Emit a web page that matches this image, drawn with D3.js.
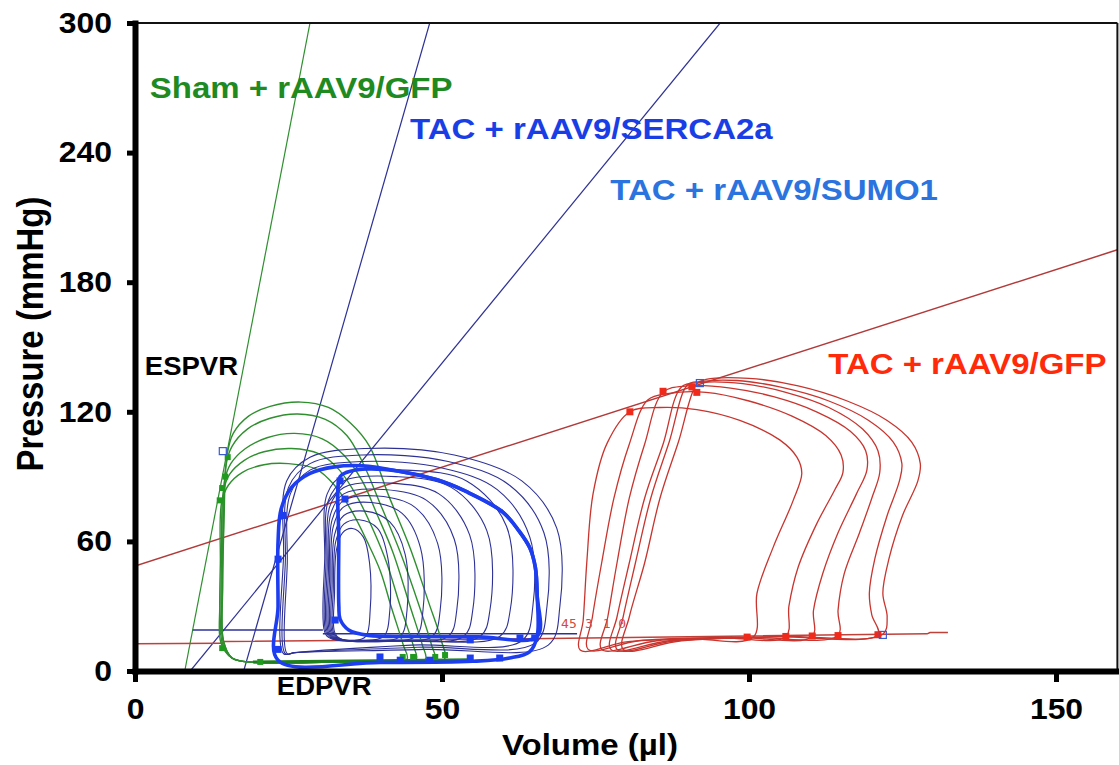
<!DOCTYPE html>
<html>
<head>
<meta charset="utf-8">
<script src="https://cdn.jsdelivr.net/npm/d3@7"></script>
<style>
  body { margin: 0; background: #fff; }
  text { font-family: "Liberation Sans", Arial, Helvetica, sans-serif; font-weight: bold; }
</style>
</head>
<body>
<svg width="1119" height="765"></svg>
<script>
const volumeTicks = [0, 50, 100, 150]
const pressureTicks = [0, 60, 120, 180, 240, 300]

// ESPVR / EDPVR lines, [volume µl, pressure mmHg]
const espvrSham = [[8.1, 0], [28.5, 300]]
const espvrSerca = [[17.7, 0], [48.0, 300]]
const espvrSumo = [[9.0, 0], [95.3, 300]]
const espvrTacGfp = [[0, 48.6], [160, 195]]
const edpvrTacGfp = [[0, 12.6], [14, 12.8], [14.5, 13.6], [60, 14.8], [100, 16.2], [129, 17.2], [129.5, 17.8], [132.4, 17.8]]
const edpvrSham = [[19.2, 4.2], [55, 5.2]]
const edpvrSumoA = [[9.4, 19], [30.6, 19]]
const edpvrSumoB = [[30.6, 17.3], [72, 17.3]]

// PV loops
const shamLoops = [
  [[14.4,14],[14.3,40],[14.5,70],[15,100],[16,110],[18.5,118],[22,122.5],[27,124.5],[31.5,122],[35,115],[38.2,104],[41.2,82],[44.8,57],[47.8,32],[49.9,14],[50.4,5.5],[42.7,4.5],[30.5,4],[19.3,4],[15.8,6]],
  [[14.4,14],[14.2,40],[14.4,65],[14.8,95],[15.8,104],[18.3,112],[22,117],[26.5,119],[31,116.5],[34.5,109],[37,97],[40,77],[43.2,55],[46.3,30],[48.3,12],[48.8,5.5],[41.7,4.5],[30.5,4],[19.3,4],[15.8,6]],
  [[14.4,13],[14.2,35],[14.3,60],[14.6,88],[15.6,96],[18,103],[21.5,108],[26,110],[30.5,107.5],[34,100],[37,88],[39.5,72],[42,55],[44.8,30],[46.8,12],[47.3,5.5],[40.7,4.5],[30.5,4],[19.3,4],[15.8,6]],
  [[14.2,13],[14,30],[14.1,55],[14.4,83],[15.4,91],[17.8,97.5],[21,101.5],[25.5,103],[30,100.5],[33.3,93],[36.3,80],[39,64],[41,50],[43.2,30],[45.3,12],[45.8,5.5],[39.7,4.5],[30.5,4],[19.3,4],[15.8,6]],
  [[14,13],[13.8,30],[13.9,50],[14.1,78],[15.2,86],[17.5,92],[21,95.5],[25,96],[29.5,93.5],[32.5,86],[35.3,74],[37.8,60],[40,46],[41.7,30],[43.7,12],[44.3,5.5],[38.7,4.5],[30.5,4],[19.3,4],[15.8,6]]
]

const sumoLoops = [
  [[32.5,18],[32.5,36],[32.8,56],[33.8,64],[35.4,66],[37.2,62],[38.2,50],[38.3,28],[37.6,16],[35.5,14],[33.4,15]],
  [[32.3,18],[32.3,38],[32.7,60],[34,68],[36.5,70],[39.5,66],[41.2,52],[41.5,28],[40.5,16],[37,14],[33.3,15]],
  [[32.1,18],[32.1,40],[32.5,63],[34,72],[37.5,74],[41.5,69],[44,54],[44.3,28],[43.2,16],[38.5,14],[33.1,15]],
  [[31.9,18],[31.9,42],[32.3,67],[34,76],[38.5,78],[43.5,73],[46.5,57],[46.9,28],[45.7,16],[39.5,14],[32.9,15]],
  [[31.7,18],[31.7,44],[32.1,70],[34,79],[39.5,81],[45.5,76],[49.3,59],[49.7,28],[48.4,16],[41,14],[32.7,15]],
  [[31.5,18],[31.5,46],[31.9,73],[34,82],[40.5,84],[47.5,79],[52,61],[52.4,28],[51,16],[42,14],[32.5,15]],
  [[31.3,18],[31.3,48],[31.7,76],[34,85],[41.5,87],[49.5,82],[54.5,63],[55,28],[53.5,16],[43,14],[32.3,15]],
  [[31.1,18],[31.1,50],[31.5,79],[34,88],[42.5,90],[51.5,85],[57.3,65],[57.8,28],[56.2,16],[44.5,14],[32.1,15]],
  [[30.9,18],[30.9,52],[31.3,82],[34,91],[44,93],[54,88],[60.5,67],[61.1,28],[59.4,16],[46,14],[31.9,15]],
  [[24.8,8],[24.8,50],[25.3,82],[28.5,93],[37,97],[50,94],[59,84],[64.3,62],[64.8,30],[63,14],[45,12],[26,8.5]],
  [[24.5,8],[24.5,52],[25,85],[28.5,96],[37,100],[51,97],[61,86],[66.6,64],[67.1,30],[65.2,13],[46,11],[26,8.5]],
  [[24.2,8],[24.2,54],[24.7,88],[28.5,99],[37.5,103],[52,100],[63,88],[68.7,66],[69.2,30],[67.3,12],[47,10],[26,8.5]]
]

const sercaLoops = [
  [[23.3,5],[40,4],[55,4.5],[61,6],[64.3,9],[65.5,16],[65.5,35],[65.2,48],[64.3,57],[62.5,65],[59.9,73.6],[54,83],[49.2,88.5],[43,92.5],[37,95],[32.5,94.5],[28.5,91.5],[25.5,85],[23.8,75],[23.3,60],[23.3,30]],
  [[33.4,90],[33.2,60],[33.2,30],[33.4,24],[34.8,19],[38,16.5],[46,16],[56,15.8],[65.5,16],[65.5,35],[65.2,48],[64.3,57],[62.5,65],[59.9,73.6],[54,83],[49.2,88.5],[43,92.5],[37.5,93.5],[34.5,92]]
]

const gfpLoops = [
  [[72.5,9.7],[80,13.5],[90,15],[100.7,15.7],[101.3,36],[103.9,57],[107.2,79],[108.6,91.5],[107.8,99],[105,107],[98.5,116],[91.5,121],[85.5,122],[80.6,120],[76.9,105.5],[74.6,82],[73.6,51],[73,23.6]],
  [[73.8,10],[82,14],[95,15.5],[106,16],[106.5,30],[108,48],[111,68],[114,84],[115.3,92],[115,100],[112.5,109],[107,118],[100,125],[93,129],[87,128.5],[83.5,125.5],[80.5,105],[78,80],[76,50],[74.5,25]],
  [[76,10],[85,14],[98,15.5],[110.3,16],[110.5,28],[112,45],[114.5,64],[117.5,82],[119.2,93],[119,102],[116.5,111],[111,120],[104,127],[97,131],[90,132],[86,129],[83,105],[80.5,80],[78.5,50],[77,25]],
  [[77.5,10],[87,14],[100,15.5],[114.5,16.5],[114.5,28],[115.5,45],[118,64],[120,80],[121.3,92],[121,102],[118.5,112],[113,122],[106,129],[99,133],[92,133.5],[89,131.5],[86,105],[83,80],[80.5,50],[78.5,25]],
  [[78.5,10],[88,14],[104,15.8],[121,16.8],[120,26],[119.6,36],[120.5,52],[122.5,72],[124.5,88],[124.9,96],[123.5,106],[119.5,116],[113,125],[105,131.5],[98,134.5],[92,134],[90,132.5],[87,106],[84,80],[81.5,50],[79.5,25]],
  [[79.5,10],[89,14],[105,16],[121.8,17],[122.5,25],[121.8,36],[122.8,52],[125,72],[127.5,88],[127.9,96],[126.5,106],[122.5,116],[116,125],[108,132],[100,135.5],[93,135],[91.5,133],[88.5,106],[85.5,80],[83,50],[80.5,25]]
]

// end-systolic / end-diastolic markers
const shamMarks = [[15.1,99],[14.7,90],[14.2,84.7],[13.8,79],[14.2,10.6],[43.6,6.5],[45.3,6.5],[48.9,6.5],[50.5,7.4],[20.4,4.2]]
const sercaMarks = [[23.3,51.8],[24.1,72],[33.4,88],[34.2,79.6],[32.6,23.6],[39.9,6.5],[43.2,5],[48,5],[54.6,6],[59.4,6],[65.1,15.3],[62.7,15.3],[54.6,14.4],[23.3,10]]
const gfpMarks = [[80.6,120],[86,129.5],[90.7,131.5],[91.5,129],[99.7,15.7],[106,16],[110.3,16.2],[114.5,16.4],[121,16.8]]
const openMarks = [[14.3,101.8],[92,133.3],[121.8,16.7]]

const runLabels = ["45", "3", "1", "0"]
const runLabelVolume = [69.4, 73.3, 76.2, 78.7]

const svg = d3.select("svg")
const x = d3.scaleLinear().domain([0, 160]).range([135, 1117.4])
const y = d3.scaleLinear().domain([0, 300]).range([671, 23])

svg.append("rect").attr("width", 1119).attr("height", 765).attr("fill", "#fff")

svg.append("defs").append("clipPath").attr("id", "plot")
  .append("rect")
  .attr("x", x(0)).attr("y", y(300))
  .attr("width", x(160) - x(0)).attr("height", y(0) - y(300))

const plot = svg.append("g").attr("clip-path", "url(#plot)")

const straight = d3.line().x(d => x(d[0])).y(d => y(d[1]))
const loop = d3.line().x(d => x(d[0])).y(d => y(d[1])).curve(d3.curveCatmullRomClosed.alpha(0.5))

function path(data, gen, color, width) {
  plot.append("path").attr("d", gen(data))
    .attr("fill", "none").attr("stroke", color).attr("stroke-width", width)
    .attr("stroke-linejoin", "round")
}

const green = "#2f8f2f", navy = "#2d3196", serca = "#1d3ef0", red = "#c8342e"

// relation lines
path(espvrSham, straight, green, 1.2)
path(espvrSerca, straight, navy, 1.2)
path(espvrSumo, straight, navy, 1.2)
path(espvrTacGfp, straight, "#b23a3a", 1.5)
path(edpvrTacGfp, straight, "#c0403a", 1.5)
path(edpvrSumoA, straight, navy, 1.5)
path(edpvrSumoB, straight, navy, 1.5)

shamLoops.forEach(l => path(l, loop, green, 1.4))
path(edpvrSham, straight, "#1f7f1f", 3)
sumoLoops.forEach(l => path(l, loop, navy, 1.1))
sercaLoops.forEach(l => path(l, loop, serca, 3.6))
gfpLoops.forEach(l => path(l, loop, red, 1.3))

function marks(data, color, size) {
  plot.selectAll(null).data(data).enter().append("rect")
    .attr("x", d => x(d[0]) - size / 2).attr("y", d => y(d[1]) - size / 2)
    .attr("width", size).attr("height", size).attr("fill", color)
}
marks(shamMarks, "#1f9a1f", 6)
marks(sercaMarks, serca, 7)
marks(gfpMarks, "#f02a1a", 7)
plot.selectAll(null).data(openMarks).enter().append("rect")
  .attr("x", d => x(d[0]) - 3.5).attr("y", d => y(d[1]) - 3.5)
  .attr("width", 7).attr("height", 7)
  .attr("fill", "none").attr("stroke", "#3a5ad0").attr("stroke-width", 1.2)

plot.selectAll(null).data(runLabels).enter().append("text")
  .attr("x", (d, i) => x(runLabelVolume[i])).attr("y", y(20))
  .attr("font-size", 13).attr("fill", "#d44a40")
  .style("font-weight", "normal").style("font-family", "DejaVu Sans Mono, monospace")
  .text(d => d)

// frame
svg.append("line").attr("x1", x(0)).attr("x2", x(160)).attr("y1", y(300)).attr("y2", y(300))
  .attr("stroke", "#111").attr("stroke-width", 2)
svg.append("line").attr("x1", x(160)).attr("x2", x(160)).attr("y1", y(300)).attr("y2", y(0))
  .attr("stroke", "#111").attr("stroke-width", 2)

// axes
const xAxis = svg.append("g").attr("transform", `translate(0,${y(0)})`)
  .call(d3.axisBottom(x).tickValues(volumeTicks).tickSize(11).tickSizeOuter(0).tickPadding(16))
const yAxis = svg.append("g").attr("transform", `translate(${x(0)},0)`)
  .call(d3.axisLeft(y).tickValues(pressureTicks).tickSize(8).tickSizeOuter(0).tickPadding(15))

for (const ax of [xAxis, yAxis]) {
  ax.select(".domain").attr("stroke", "#000").attr("stroke-width", 6).attr("stroke-linecap", "square")
  ax.selectAll(".tick line").attr("stroke", "#000").attr("stroke-width", 5)
  ax.selectAll(".tick text").attr("font-size", 29).attr("fill", "#000")
    .style("font-family", "'Liberation Sans', Arial, sans-serif").style("font-weight", "bold")
}
xAxis.selectAll(".tick text").attr("transform", "scale(1.1,1)")
yAxis.selectAll(".tick text").each(function() {
  const t = d3.select(this)
  const tx = +t.attr("x")
  t.attr("x", 0).attr("transform", `translate(${tx},0) scale(1.1,1)`)
})

// labels
function label(txt, v, p, size, color, anchor) {
  svg.append("text")
    .attr("transform", `translate(${x(v)},${y(p)}) scale(1.1,1)`)
    .attr("font-size", size).attr("fill", color)
    .attr("text-anchor", anchor || "start")
    .text(txt)
}
label("Sham + rAAV9/GFP", 2.4, 265.5, 30, "#1f8a1f")
label("TAC + rAAV9/SERCA2a", 44.8, 246.5, 30, "#1a3ee6")
label("TAC + rAAV9/SUMO1", 77.4, 218, 30, "#2b74e0")
label("TAC + rAAV9/GFP", 112.9, 137.5, 30, "#ff2a0a")
label("ESPVR", 1.6, 137, 25, "#000")
label("EDPVR", 23.1, -11, 25, "#000")

svg.append("text")
  .attr("transform", "translate(590,755) scale(1.1,1)")
  .attr("text-anchor", "middle").attr("font-size", 30).attr("fill", "#000")
  .text("Volume (µl)")
svg.append("text")
  .attr("transform", "translate(43,334) scale(1.1,1) rotate(-90)")
  .attr("text-anchor", "middle").attr("font-size", 33).attr("fill", "#000")
  .text("Pressure (mmHg)")
</script>
</body>
</html>
